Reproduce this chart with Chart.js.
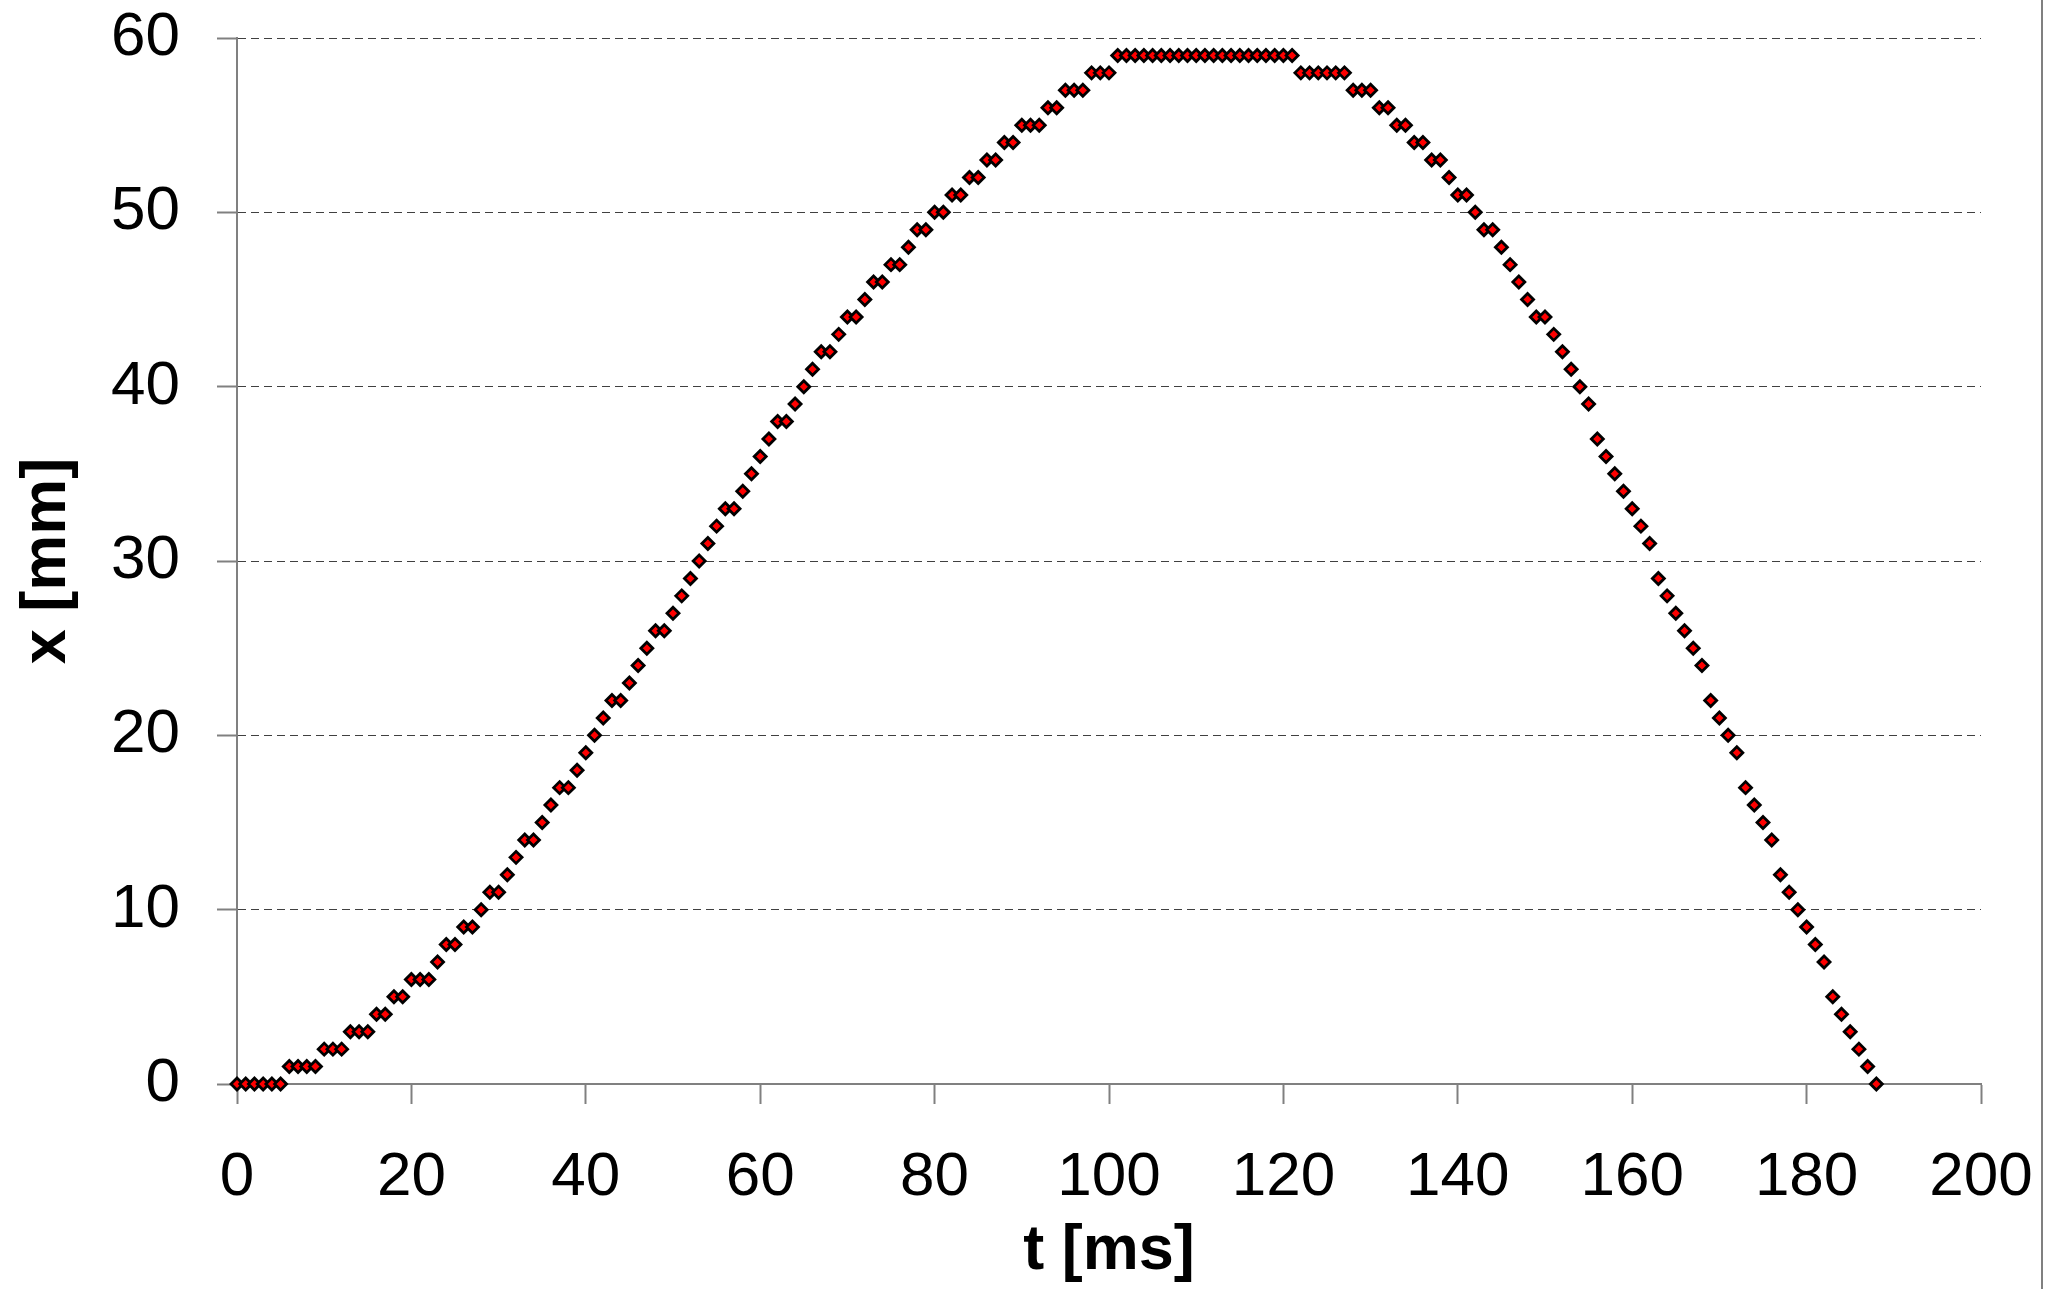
<!DOCTYPE html>
<html>
<head>
<meta charset="utf-8">
<script src="https://cdn.jsdelivr.net/npm/chart.js@4.4.1/dist/chart.umd.min.js"></script>
<style>
  html, body { margin: 0; padding: 0; background: #fff; }
  #wrap { position: relative; width: 2045px; height: 1289px; }
  #edge { position: absolute; left: 2041px; top: 0; width: 2px; height: 1289px; background: #808080; }
</style>
</head>
<body>
<div id="wrap">
  <canvas id="grafico" width="2045" height="1289"></canvas>
  <div id="edge"></div>
</div>
<script>
// sample times [ms]
const tMs = [
  0, 1, 2, 3, 4, 5, 6, 7, 8, 9, 10, 11, 12, 13, 14, 15, 16, 17, 18, 19,
  20, 21, 22, 23, 24, 25, 26, 27, 28, 29, 30, 31, 32, 33, 34, 35, 36, 37, 38, 39,
  40, 41, 42, 43, 44, 45, 46, 47, 48, 49, 50, 51, 52, 53, 54, 55, 56, 57, 58, 59,
  60, 61, 62, 63, 64, 65, 66, 67, 68, 69, 70, 71, 72, 73, 74, 75, 76, 77, 78, 79,
  80, 81, 82, 83, 84, 85, 86, 87, 88, 89, 90, 91, 92, 93, 94, 95, 96, 97, 98, 99,
  100, 101, 102, 103, 104, 105, 106, 107, 108, 109, 110, 111, 112, 113, 114, 115, 116, 117, 118, 119,
  120, 121, 122, 123, 124, 125, 126, 127, 128, 129, 130, 131, 132, 133, 134, 135, 136, 137, 138, 139,
  140, 141, 142, 143, 144, 145, 146, 147, 148, 149, 150, 151, 152, 153, 154, 155, 156, 157, 158, 159,
  160, 161, 162, 163, 164, 165, 166, 167, 168, 169, 170, 171, 172, 173, 174, 175, 176, 177, 178, 179,
  180, 181, 182, 183, 184, 185, 186, 187, 188
];

// position [mm]
const xMm = [
  0, 0, 0, 0, 0, 0, 1, 1, 1, 1,
  2, 2, 2, 3, 3, 3, 4, 4, 5, 5,
  6, 6, 6, 7, 8, 8, 9, 9, 10, 11,
  11, 12, 13, 14, 14, 15, 16, 17, 17, 18,
  19, 20, 21, 22, 22, 23, 24, 25, 26, 26,
  27, 28, 29, 30, 31, 32, 33, 33, 34, 35,
  36, 37, 38, 38, 39, 40, 41, 42, 42, 43,
  44, 44, 45, 46, 46, 47, 47, 48, 49, 49,
  50, 50, 51, 51, 52, 52, 53, 53, 54, 54,
  55, 55, 55, 56, 56, 57, 57, 57, 58, 58,
  58, 59, 59, 59, 59, 59, 59, 59, 59, 59,
  59, 59, 59, 59, 59, 59, 59, 59, 59, 59,
  59, 59, 58, 58, 58, 58, 58, 58, 57, 57,
  57, 56, 56, 55, 55, 54, 54, 53, 53, 52,
  51, 51, 50, 49, 49, 48, 47, 46, 45, 44,
  44, 43, 42, 41, 40, 39, 37, 36, 35, 34,
  33, 32, 31, 29, 28, 27, 26, 25, 24, 22,
  21, 20, 19, 17, 16, 15, 14, 12, 11, 10,
  9, 8, 7, 5, 4, 3, 2, 1, 0
];

const xTicks = [0, 20, 40, 60, 80, 100, 120, 140, 160, 180, 200];
const yTicks = [0, 10, 20, 30, 40, 50, 60];

const pontos = tMs.map((t, i) => ({ x: t, y: xMm[i] }));

const FONT = "'Liberation Sans', Arial, sans-serif";

new Chart(document.getElementById("grafico").getContext("2d"), {
  type: "scatter",
  data: {
    datasets: [{
      data: pontos,
      clip: false,
      pointStyle: "rectRot",
      pointRadius: 6,
      pointBorderWidth: 2.8,
      pointBackgroundColor: "#ff0000",
      pointBorderColor: "#000000",
      showLine: false
    }]
  },
  options: {
    responsive: false,
    animation: false,
    devicePixelRatio: 1,
    layout: { padding: { left: 0, right: 64, top: 38, bottom: 0 } },
    plugins: {
      legend: { display: false },
      tooltip: { enabled: false }
    },
    scales: {
      x: {
        type: "linear",
        min: 0,
        max: 200,
        afterBuildTicks: (s) => { s.ticks = xTicks.map((v) => ({ value: v })); },
        afterFit: (s) => {
          s.height = 205;
          // labels may stick out, the layout padding takes care of it
          s.paddingLeft = 0;
          s.paddingRight = 0;
        },
        ticks: {
          color: "#000",
          padding: 37,
          maxRotation: 0,
          font: { family: FONT, size: 62 }
        },
        grid: {
          drawOnChartArea: false,
          drawTicks: true,
          tickLength: 20,
          tickColor: "#808080",
          tickWidth: 2
        },
        border: { display: true, color: "#808080", width: 2 },
        title: {
          display: true,
          text: "t [ms]",
          color: "#000",
          padding: 0,
          font: { family: FONT, size: 63, weight: "bold" }
        }
      },
      y: {
        type: "linear",
        min: 0,
        max: 60,
        afterBuildTicks: (s) => { s.ticks = yTicks.map((v) => ({ value: v })); },
        afterFit: (s) => {
          s.width = 237;
          s.paddingTop = 0;
          s.paddingBottom = 0;
        },
        ticks: {
          color: "#000",
          padding: 37,
          font: { family: FONT, size: 62 }
        },
        grid: {
          color: "#404040",
          lineWidth: 1,
          drawTicks: true,
          tickLength: 20,
          tickColor: "#808080",
          tickWidth: 2
        },
        border: { display: true, color: "#808080", width: 2, dash: [8, 5] },
        title: {
          display: true,
          text: "x [mm]",
          color: "#000",
          padding: { top: 10, bottom: 0 },
          font: { family: FONT, size: 63, weight: "bold" }
        }
      }
    }
  }
});
</script>
</body>
</html>
